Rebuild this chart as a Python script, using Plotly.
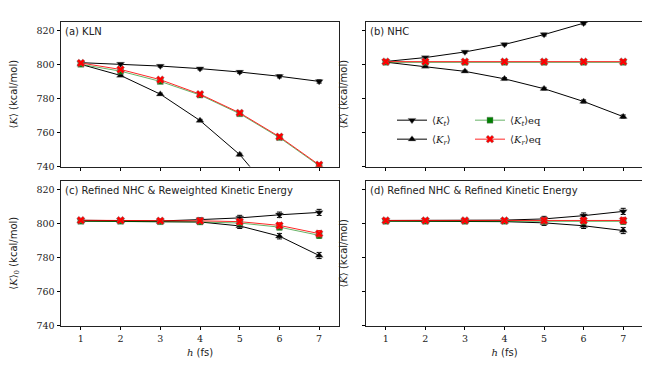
import plotly.graph_objects as go

h = [1, 2, 3, 4, 5, 6, 7]

# (a) KLN
a_kt = [801.0, 800.2, 799.0, 797.5, 795.5, 793.0, 790.0]
a_kr = [800.0, 793.5, 782.5, 767.0, 747.0, 720.0, 692.0]
a_kteq = [800.0, 796.0, 790.0, 782.0, 771.0, 757.0, 740.5]
a_kreq = [800.8, 797.0, 791.0, 782.5, 771.5, 757.5, 741.0]
# (b) NHC
b_kt = [801.7, 804.0, 807.3, 811.7, 817.5, 824.2, 832.0]
b_kr = [801.3, 798.8, 795.9, 791.5, 785.7, 778.2, 769.3]
b_kteq = [801.2, 801.2, 801.2, 801.2, 801.2, 801.2, 801.2]
b_kreq = [801.6, 801.6, 801.6, 801.6, 801.6, 801.6, 801.6]
# (c) Refined NHC & Reweighted Kinetic Energy
c_kt = [801.8, 801.8, 801.4, 802.2, 803.2, 805.0, 806.4]
c_kr = [801.3, 801.2, 801.0, 800.8, 798.5, 792.5, 781.2]
c_kteq = [801.2, 801.2, 801.0, 800.8, 800.2, 797.8, 793.0]
c_kreq = [801.8, 801.8, 801.5, 801.5, 801.0, 798.8, 794.0]
# (d) Refined NHC & Refined Kinetic Energy
d_kt = [801.7, 801.8, 801.6, 801.9, 802.6, 804.5, 807.0]
d_kr = [801.3, 801.2, 801.2, 801.0, 800.3, 798.6, 795.8]
d_kteq = [801.2, 801.2, 801.2, 801.2, 801.2, 801.2, 801.2]
d_kreq = [801.7, 801.7, 801.7, 801.7, 801.7, 801.7, 801.7]

err_small = [0.6, 0.6, 0.6, 0.7, 0.8, 0.9, 1.0]
err_big = [0.8, 0.8, 0.8, 1.0, 1.5, 1.6, 1.8]

panels = [
    ("(a) KLN", a_kt, a_kr, a_kteq, a_kreq, err_small),
    ("(b) NHC", b_kt, b_kr, b_kteq, b_kreq, err_small),
    ("(c) Refined NHC &amp; Reweighted Kinetic Energy", c_kt, c_kr, c_kteq, c_kreq, err_big),
    ("(d) Refined NHC &amp; Refined Kinetic Energy", d_kt, d_kr, d_kteq, d_kreq, err_big),
]

ytitles = [
    "⟨<i>K</i>⟩ <span style='font-family:DejaVu Sans'>(kcal/mol)</span>",
    "⟨<i>K</i>⟩ <span style='font-family:DejaVu Sans'>(kcal/mol)</span>",
    "⟨<i>K</i>⟩<sub>0</sub> <span style='font-family:DejaVu Sans'>(kcal/mol)</span>",
    "⟨<i>K̃</i>⟩ <span style='font-family:DejaVu Sans'>(kcal/mol)</span>",
]

SERIF = "DejaVu Serif"
SANS = "DejaVu Sans"

names = [
    "⟨<i>K</i><sub><i>t</i></sub>⟩",
    "⟨<i>K</i><sub><i>r</i></sub>⟩",
    "⟨<i>K</i><sub><i>t</i></sub>⟩eq",
    "⟨<i>K</i><sub><i>r</i></sub>⟩eq",
]
styles = [
    dict(color="black", line="black", symbol="triangle-down", size=7, legend="legend"),
    dict(color="black", line="black", symbol="triangle-up", size=7, legend="legend"),
    dict(color="green", line="rgba(0,128,0,0.6)", symbol="square", size=6, legend="legend2"),
    dict(color="red", line="rgba(255,0,0,0.85)", symbol="x", size=7, legend="legend2"),
]

fig = go.Figure()

W, H = 650, 369
xdom = [(53 / W, 331 / W), (358 / W, 635 / W)]
ydom = [(1 - 160.7 / H, 1 - 14 / H), (1 - 322.3 / H, 1 - 175 / H)]

for i, (title, kt, kr, kteq, kreq, err) in enumerate(panels):
    row, col = divmod(i, 2)
    xa = "x" if i == 0 else f"x{i + 1}"
    ya = "y" if i == 0 else f"y{i + 1}"
    for j, vals in enumerate([kt, kr, kteq, kreq]):
        s = styles[j]
        fig.add_trace(go.Scatter(
            x=h, y=vals, xaxis=xa, yaxis=ya,
            mode="lines+markers",
            name=names[j],
            legend=s["legend"],
            showlegend=(i == 1),
            line=dict(color=s["line"], width=1),
            marker=dict(color=s["color"], symbol=s["symbol"], size=s["size"],
                        line=dict(color="rgba(128,128,128,0.5)", width=0.8)),
            error_y=dict(type="data", array=err, color=s["color"], thickness=1, width=2.5),
        ))

    xkey = "xaxis" if i == 0 else f"xaxis{i + 1}"
    ykey = "yaxis" if i == 0 else f"yaxis{i + 1}"
    xaxis = dict(
        domain=xdom[col], anchor=ya, range=[0.5, 7.5],
        tickvals=h, showticklabels=(row == 1),
        ticks="outside", ticklen=3.5, tickwidth=0.8, tickcolor="black",
        showline=True, linecolor="#222", linewidth=1, mirror=True,
        showgrid=False, zeroline=False,
        tickfont=dict(family=SERIF, size=9.5, color="#222"),
    )
    if row == 1:
        xaxis["title"] = dict(text="<i>h</i> <span style='font-family:DejaVu Sans'>(fs)</span>",
                              font=dict(family=SERIF, size=10, color="#222"), standoff=6)
    fig.update_layout({
        xkey: xaxis,
        ykey: dict(
            domain=ydom[row], anchor=xa, range=[740, 825],
            tickvals=[740, 760, 780, 800, 820], showticklabels=(col == 0),
            ticks="outside", ticklen=3.5, tickwidth=0.8, tickcolor="black",
            showline=True, linecolor="#222", linewidth=1, mirror=True,
            showgrid=False, zeroline=False,
            tickfont=dict(family=SERIF, size=9.5, color="#222"),
            title=dict(text=ytitles[i],
                       font=dict(family=SERIF, size=10, color="#222"),
                       standoff=17 if col == 0 else 11),
        ),
    })
    fig.add_annotation(
        text=title, xref="paper", yref="paper",
        x=xdom[col][0] + 2 / W, y=ydom[row][1] - 2 / H,
        xanchor="left", yanchor="top", showarrow=False,
        font=dict(family=SANS, size=10, color="#222"),
    )

legend_style = dict(
    bgcolor="rgba(0,0,0,0)", borderwidth=0,
    font=dict(family=SERIF, size=10, color="#222"),
    tracegroupgap=0, itemwidth=30, yanchor="top", xanchor="left",
)
fig.update_layout(
    width=W, height=H,
    margin=dict(l=0, r=0, t=0, b=0),
    paper_bgcolor="white", plot_bgcolor="white",
    legend=dict(x=384 / W, y=1 - 99 / H, **legend_style),
    legend2=dict(x=462 / W, y=1 - 99 / H, **legend_style),
)

fig.write_html("out.html")
